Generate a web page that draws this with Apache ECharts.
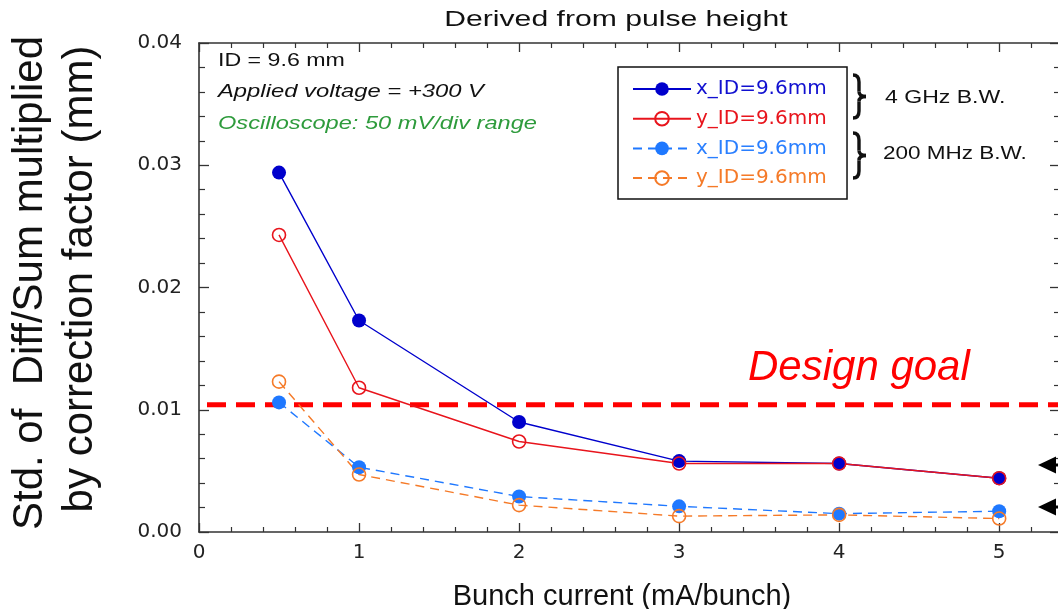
<!DOCTYPE html>
<html>
<head>
<meta charset="utf-8">
<script src="https://cdn.jsdelivr.net/npm/echarts@6/dist/echarts.min.js"></script>
<style>
  html, body { margin: 0; padding: 0; background: #fff; }
  #chart { width: 1058px; height: 609px; }
</style>
</head>
<body>
<div id="chart"></div>
<script>
// Bunch current (mA/bunch)
const current = [0.5, 1, 2, 3, 4, 5];

// Std. of Diff/Sum multiplied by correction factor (mm)
const x4GHz   = [0.0294, 0.0173, 0.0090, 0.0058, 0.0056, 0.0044];
const y4GHz   = [0.0243, 0.0118, 0.0074, 0.0056, 0.0056, 0.0044];
const x200MHz = [0.0106, 0.0053, 0.0029, 0.0021, 0.0015, 0.0017];
const y200MHz = [0.0123, 0.0047, 0.0022, 0.0013, 0.0014, 0.0011];

const seriesNames = ['x_ID=9.6mm', 'y_ID=9.6mm', 'x_ID=9.6mm ', 'y_ID=9.6mm '];

const designGoal = 0.0104;
const goalStart = 0.05;

const xMin = 0, xMax = 5.38;
const yMin = 0, yMax = 0.04;
const xTickStep = 1, yTickStep = 0.01;

const chart = echarts.init(document.getElementById('chart'));

const pair = (xs, ys) => xs.map((x, i) => [x, ys[i]]);

const axisColor = '#333';
const tickFont = 'DejaVu Sans';
const textFont = 'Liberation Sans, Arial, sans-serif';

function xAxisDef(pos, showLabels) {
  return {
    type: 'value', position: pos, min: xMin, max: xMax, interval: xTickStep,
    axisLine: { show: true, onZero: false, lineStyle: { color: axisColor, width: 1.6 } },
    axisTick: { show: true, inside: true, length: 9, lineStyle: { color: axisColor, width: 1.3 } },
    minorTick: { show: true, splitNumber: 5, length: 5, lineStyle: { color: axisColor, width: 1.2 } },
    splitLine: { show: false },
    axisLabel: {
      show: showLabels, margin: 11, fontSize: 20, fontFamily: tickFont, color: '#222',
      formatter: v => (Math.abs(v - Math.round(v)) < 1e-9 ? String(Math.round(v)) : '')
    }
  };
}

function yAxisDef(pos, showLabels) {
  return {
    type: 'value', position: pos, min: yMin, max: yMax, interval: yTickStep,
    axisLine: { show: true, onZero: false, lineStyle: { color: axisColor, width: 1.6 } },
    axisTick: { show: true, inside: true, length: 10, lineStyle: { color: axisColor, width: 1.3 } },
    minorTick: { show: true, splitNumber: 5, length: 6, lineStyle: { color: axisColor, width: 1.2 } },
    splitLine: { show: false },
    axisLabel: {
      show: showLabels, margin: 17, fontSize: 20, fontFamily: tickFont, color: '#222',
      formatter: v => v.toFixed(2)
    }
  };
}

function lineSeries(name, ys, color, dashed, hollow) {
  return {
    name: name, type: 'line', xAxisIndex: 0, yAxisIndex: 0,
    data: pair(current, ys),
    symbol: 'circle',
    symbolSize: hollow ? 13 : 14,
    lineStyle: { color: color, width: 1.4, type: dashed ? [9, 6] : 'solid' },
    itemStyle: hollow
      ? { color: 'rgba(0,0,0,0)', borderColor: color, borderWidth: 1.6 }
      : { color: color, borderWidth: 0 },
    emphasis: { disabled: true },
    animation: false,
    z: 3
  };
}

// Small text overlaid in the plot area, widened to the plot's proportions
function plotText(str, x, y, opts) {
  return {
    type: 'text', x: x, y: y, scaleX: opts.scaleX || 1, z: 20,
    style: {
      text: str, x: 0, y: 0,
      fontSize: opts.size, fontFamily: textFont,
      fontStyle: opts.italic ? 'italic' : 'normal',
      fill: opts.color || '#111',
      textAlign: opts.align || 'left', align: opts.align || 'left',
      textVerticalAlign: 'middle', verticalAlign: 'middle'
    }
  };
}

// Curly brace grouping two legend rows
function brace(top, bottom, left) {
  const mid = (top + bottom) / 2;
  const sx = left + 6, tip = left + 13;
  const st = { fill: 'none', stroke: '#111', lineWidth: 3.4 };
  const curve = (x1, y1, cx, cy, x2, y2) =>
    ({ type: 'bezierCurve', shape: { x1, y1, cpx1: cx, cpy1: cy, x2, y2 }, style: st });
  const seg = (x1, y1, x2, y2) => ({ type: 'line', shape: { x1, y1, x2, y2 }, style: st });
  return {
    type: 'group', z: 20,
    children: [
      curve(left, top, sx, top, sx, top + 7),
      seg(sx, top + 7, sx, mid - 5),
      curve(sx, mid - 5, sx, mid, tip, mid),
      curve(tip, mid, sx, mid, sx, mid + 5),
      seg(sx, mid + 5, sx, bottom - 7),
      curve(sx, bottom - 7, sx, bottom, left, bottom)
    ]
  };
}

function arrow(y) {
  return [
    { type: 'polygon', z: 20, shape: { points: [[1038, y], [1056, y - 8.5], [1056, y + 8.5]] }, style: { fill: '#000' } },
    { type: 'line', z: 20, shape: { x1: 1054, y1: y, x2: 1070, y2: y }, style: { stroke: '#000', lineWidth: 3 } }
  ];
}

const option = {
  backgroundColor: '#fff',
  animation: false,
  grid: { left: 199, top: 43, width: 861, height: 489, containLabel: false, outerBoundsMode: 'none', show: false },
  xAxis: [xAxisDef('bottom', true), xAxisDef('top', false)],
  yAxis: [yAxisDef('left', true), yAxisDef('right', false)],
  legend: {
    data: [
      { name: seriesNames[0], textStyle: { color: '#1010D0' } },
      { name: seriesNames[1], textStyle: { color: '#E8141C' } },
      { name: seriesNames[2], textStyle: { color: '#2A7FFF' } },
      { name: seriesNames[3], textStyle: { color: '#F57A28' } }
    ],
    orient: 'vertical', left: 618, top: 67,
    padding: [12, 14, 11, 14],
    itemWidth: 58, itemHeight: 17, itemGap: 9.7,
    backgroundColor: '#fff', borderColor: '#111', borderWidth: 1.5, borderRadius: 0,
    textStyle: { fontSize: 20, fontFamily: tickFont },
    selectedMode: false
  },
  series: [
    lineSeries(seriesNames[0], x4GHz, '#0000CC', false, false),
    lineSeries(seriesNames[1], y4GHz, '#E8141C', false, true),
    lineSeries(seriesNames[2], x200MHz, '#1F78FF', true, false),
    lineSeries(seriesNames[3], y200MHz, '#F57A28', true, true),
    {
      name: 'Design goal', type: 'line', xAxisIndex: 0, yAxisIndex: 0,
      data: [[goalStart, designGoal], [xMax, designGoal]],
      symbol: 'none',
      lineStyle: { color: '#FF0000', width: 5, type: [19, 10] },
      emphasis: { disabled: true }, animation: false, z: 2
    }
  ],
  graphic: [
    plotText('Derived from pulse height', 616, 20, { size: 22, scaleX: 1.37, align: 'center' }),
    plotText('ID = 9.6 mm', 218, 61, { size: 19, scaleX: 1.22 }),
    plotText('Applied voltage = +300 V', 218, 92, { size: 18.6, scaleX: 1.28, italic: true }),
    plotText('Oscilloscope: 50 mV/div range', 218, 124, { size: 18.6, scaleX: 1.27, italic: true, color: '#2E9B3C' }),
    brace(75, 118, 853),
    brace(133, 178, 853),
    plotText('4 GHz B.W.', 885, 98, { size: 18, scaleX: 1.28 }),
    plotText('200 MHz B.W.', 883, 154, { size: 18, scaleX: 1.25 }),
    plotText('Design goal', 748, 368, { size: 42, italic: true, color: '#FF0000' }),
    plotText('Bunch current (mA/bunch)', 622, 597, { size: 29, align: 'center' }),
    {
      type: 'text', x: 30, y: 283, rotation: Math.PI / 2, z: 20,
      style: { text: 'Std. of  Diff/Sum multiplied', x: 0, y: 0, fontSize: 42, fontFamily: textFont, fill: '#111',
               textAlign: 'center', align: 'center', textVerticalAlign: 'middle', verticalAlign: 'middle' }
    },
    {
      type: 'text', x: 80, y: 279, rotation: Math.PI / 2, z: 20,
      style: { text: 'by correction factor (mm)', x: 0, y: 0, fontSize: 42, fontFamily: textFont, fill: '#111',
               textAlign: 'center', align: 'center', textVerticalAlign: 'middle', verticalAlign: 'middle' }
    },
    ...arrow(465),
    ...arrow(507)
  ]
};

chart.setOption(option);
</script>
</body>
</html>
